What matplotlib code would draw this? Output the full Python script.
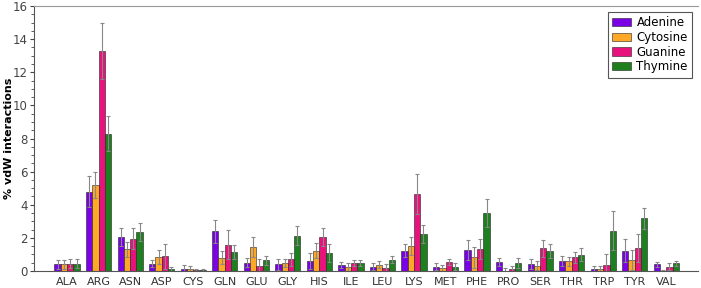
import numpy as np
import matplotlib
matplotlib.use('Agg')
import matplotlib.pyplot as plt
from matplotlib.ticker import MultipleLocator

residues = ['ALA', 'ARG', 'ASN', 'ASP', 'CYS', 'GLN', 'GLU', 'GLY', 'HIS', 'ILE',
            'LEU', 'LYS', 'MET', 'PHE', 'PRO', 'SER', 'THR', 'TRP', 'TYR', 'VAL']

# bar heights (%)
adenine = [0.40, 4.80, 2.05, 0.45, 0.15, 2.40, 0.50, 0.40, 0.62, 0.36,
           0.26, 1.23, 0.26, 1.27, 0.54, 0.42, 0.62, 0.12, 1.23, 0.40]
cytosine = [0.40, 5.20, 1.30, 0.85, 0.12, 0.80, 1.43, 0.48, 1.23, 0.24,
            0.38, 1.50, 0.16, 0.82, 0.02, 0.32, 0.58, 0.10, 0.68, 0.03]
guanine = [0.45, 13.30, 1.95, 0.90, 0.05, 1.60, 0.32, 0.70, 2.05, 0.48,
           0.20, 4.63, 0.54, 1.33, 0.12, 1.37, 0.82, 0.36, 1.37, 0.26]
thymine = [0.45, 8.30, 2.35, 0.10, 0.05, 1.15, 0.64, 2.13, 1.09, 0.48,
           0.68, 2.25, 0.26, 3.52, 0.48, 1.21, 0.99, 2.43, 3.18, 0.46]

# error bar sizes
adenine_err = [0.25, 0.95, 0.55, 0.20, 0.20, 0.70, 0.27, 0.32, 0.48, 0.20,
               0.20, 0.38, 0.22, 0.60, 0.22, 0.32, 0.29, 0.20, 0.70, 0.16]
cytosine_err = [0.25, 0.80, 0.45, 0.40, 0.18, 0.40, 0.60, 0.26, 0.44, 0.22,
                0.22, 0.53, 0.18, 0.65, 0.18, 0.26, 0.27, 0.22, 0.59, 0.05]
guanine_err = [0.25, 1.70, 0.65, 0.75, 0.10, 0.85, 0.40, 0.37, 0.53, 0.20,
               0.20, 1.21, 0.20, 0.60, 0.18, 0.50, 0.35, 0.64, 0.84, 0.22]
thymine_err = [0.25, 1.05, 0.55, 0.15, 0.10, 0.40, 0.29, 0.57, 0.52, 0.20,
               0.21, 0.53, 0.20, 0.85, 0.28, 0.44, 0.40, 1.19, 0.64, 0.14]

series = [('Adenine', adenine, adenine_err, '#7a00e6'),
          ('Cytosine', cytosine, cytosine_err, '#ffa726'),
          ('Guanine', guanine, guanine_err, '#e8127c'),
          ('Thymine', thymine, thymine_err, '#1e7f1e')]

fig = plt.figure(figsize=(7.01, 2.88), dpi=100)
ax = fig.add_axes([0.0485, 0.059, 0.947, 0.92])

x = np.arange(len(residues))
w = 0.2
for k, (name, vals, errs, col) in enumerate(series):
    ax.bar(x + (k - 1.5) * w, vals, w, yerr=errs, color=col, label=name,
           edgecolor='#222222', linewidth=0.4,
           error_kw=dict(ecolor='#888888', elinewidth=0.8, capsize=1.5,
                         capthick=0.8))

ax.set_xlim(-1.05, 20.0)
ax.set_ylim(0, 16)
ax.set_xticks(x)
ax.set_xticklabels(residues, fontsize=8, color='#333333')
ax.tick_params(axis='x', length=0, pad=4)
ax.yaxis.set_major_locator(MultipleLocator(2))
ax.yaxis.set_minor_locator(MultipleLocator(0.5))
ax.tick_params(axis='y', labelsize=8.5, colors='#444444', length=3, pad=1.5)
ax.tick_params(axis='y', which='minor', length=2, colors='#444444')
ax.set_ylabel('% vdW interactions', fontsize=8, fontweight='bold')
ax.yaxis.set_label_coords(-0.0295, 0.5)

ax.spines['right'].set_visible(False)
ax.spines['top'].set_color('#999999')
ax.spines['left'].set_color('#555555')
ax.spines['bottom'].set_color('#555555')

leg = ax.legend(loc='upper right', fontsize=8.5, fancybox=False,
                edgecolor='#555555', framealpha=1, borderaxespad=0.5,
                handlelength=1.6, handletextpad=0.5, labelspacing=0.15,
                borderpad=0.35)
leg.get_frame().set_linewidth(0.8)

plt.savefig('out.png', dpi=100)
